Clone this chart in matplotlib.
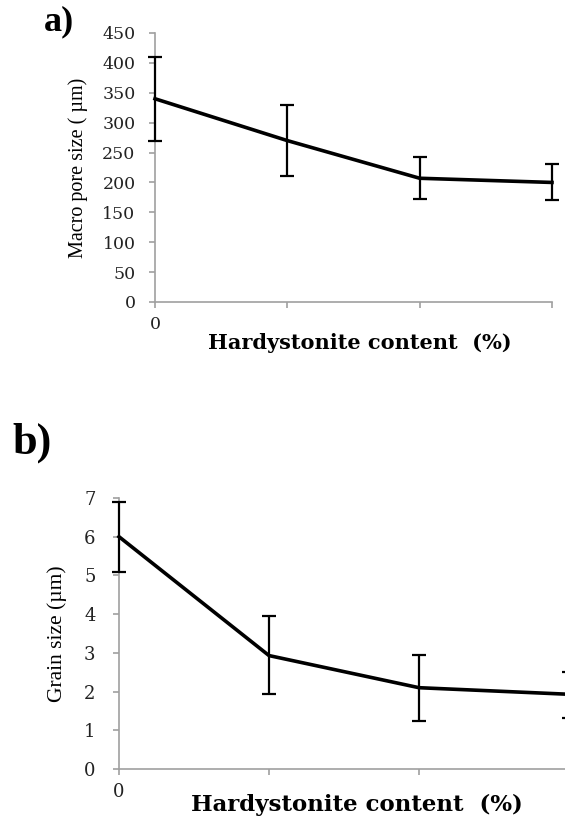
import matplotlib.pyplot as plt

# data
positions = [0, 1, 2, 3]
tick_labels = ['0', '', '', '']

pore_size = [340, 270, 207, 200]
pore_low = [270, 210, 172, 170]
pore_high = [410, 330, 243, 231]

grain_size = [6.0, 2.93, 2.1, 1.93]
grain_low = [5.1, 1.95, 1.25, 1.32]
grain_high = [6.9, 3.95, 2.95, 2.5]

W, H = 565, 824
fig = plt.figure(figsize=(W / 100, H / 100), dpi=100)
serif = ['Liberation Serif', 'DejaVu Serif']
wide = ['DejaVu Serif']
axis_grey = '#a0a0a0'


def style_axes(ax, size, pad):
    for s in ['top', 'right']:
        ax.spines[s].set_visible(False)
    for s in ['left', 'bottom']:
        ax.spines[s].set_color(axis_grey)
        ax.spines[s].set_linewidth(1.2)
    ax.tick_params(direction='out', color=axis_grey, length=4, width=1.2,
                   labelsize=size, labelcolor='#222222')
    ax.tick_params(axis='y', pad=pad)
    ax.tick_params(axis='x', pad=6)
    for lab in ax.get_xticklabels() + ax.get_yticklabels():
        lab.set_family(wide)


def draw(ax, vals, lo, hi):
    yerr = [[v - l for v, l in zip(vals, lo)], [h - v for v, h in zip(vals, hi)]]
    ax.plot(positions, vals, color='black', lw=2.6, solid_joinstyle='round', clip_on=False, zorder=3)
    ax.errorbar(positions, vals, yerr=yerr, fmt='none', ecolor='black',
                elinewidth=1.6, capsize=5, capthick=1.6, clip_on=False, zorder=4)
    ax.set_xticks(positions)
    ax.set_xticklabels(tick_labels)


# panel a
ax1 = fig.add_axes([155 / W, 1 - 302 / H, (552 - 155) / W, (302 - 33) / H])
draw(ax1, pore_size, pore_low, pore_high)
ax1.set_xlim(0, 3)
ax1.set_ylim(0, 450)
ax1.set_yticks(range(0, 451, 50))
style_axes(ax1, 12.5, 10)
ax1.set_ylabel('Macro pore size ( µm)', family=serif, fontsize=14.5, labelpad=10)
fig.text(360 / W, 1 - 343 / H, 'Hardystonite content  (%)', family=wide, fontsize=15,
         fontweight='bold', ha='center', va='center')
fig.text(44 / W, 1 - 22 / H, 'a)', family=serif, fontsize=26, fontweight='bold', va='center')

# panel b (last point falls just past the right edge)
ax2 = fig.add_axes([119 / W, 1 - 769 / H, (569 - 119) / W, (769 - 498) / H])
draw(ax2, grain_size, grain_low, grain_high)
ax2.set_xlim(0, 3)
ax2.set_ylim(0, 7)
ax2.set_yticks(range(0, 8))
style_axes(ax2, 13, 13)
ax2.set_ylabel('Grain size (µm)', family=serif, fontsize=15.5, labelpad=12)
fig.text(357 / W, 1 - 805 / H, 'Hardystonite content  (%)', family=wide, fontsize=16.5,
         fontweight='bold', ha='center', va='center')
fig.text(12 / W, 1 - 443 / H, 'b)', family=serif, fontsize=32, fontweight='bold', va='center')

fig.savefig('out.png', dpi=100)
